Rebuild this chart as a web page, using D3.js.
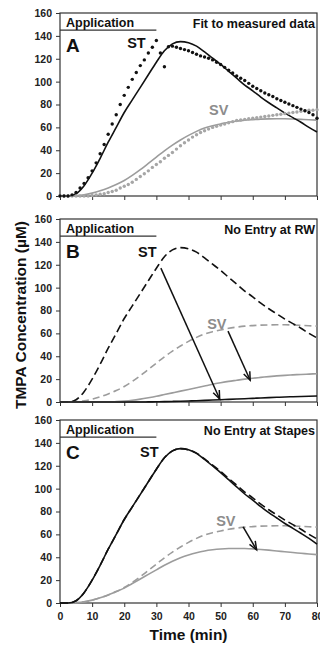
<!DOCTYPE html>
<html>
<head>
  <meta charset="utf-8">
  <script src="https://d3js.org/d3.v7.min.js"></script>
  <style>
    html, body { margin: 0; padding: 0; background: #fff; }
    svg text { font-family: "Liberation Sans", Arial, sans-serif; font-weight: bold; }
  </style>
</head>
<body>
  <div id="chart"></div>
  <script>
    // model curves, sampled every 2.5 min
    var modelTime = [0, 2.5, 5, 7.5, 10, 12.5, 15, 17.5, 20, 22.5, 25, 27.5, 30, 32.5, 35, 37.5, 40,
      42.5, 45, 47.5, 50, 52.5, 55, 57.5, 60, 62.5, 65, 67.5, 70, 72.5, 75, 77.5, 80];
    var stModel = [0, 0, 2, 9, 20, 33, 47, 60, 73, 84, 95, 106, 117, 127, 133, 135, 134,
      131, 126, 120.5, 115, 109, 103, 97, 92, 86.5, 81.5, 77, 72.5, 68.5, 64.5, 60, 56];
    var svModel = [0, 0, 0.3, 1, 2.5, 4.5, 7, 10, 13.5, 18, 23, 28.5, 34, 39.5, 44.5, 49, 53,
      56.5, 59.5, 61.5, 63, 64.5, 65.5, 66.3, 66.8, 67.2, 67.4, 67.5, 67.5, 67.3, 67, 66.7, 66.3];
    var stNoRW = [0, 0, 0, 0, 0, 0, 0, 0, 0, 0, 0, 0.1, 0.2, 0.3, 0.5, 0.7, 0.9,
      1.1, 1.4, 1.7, 2, 2.3, 2.6, 2.9, 3.2, 3.5, 3.8, 4.1, 4.4, 4.6, 4.8, 5, 5.2];
    var svNoRW = [0, 0, 0, 0, 0, 0, 0, 0.3, 0.8, 1.5, 2.5, 3.7, 5, 6.5, 8, 9.5, 11,
      12.5, 14, 15.5, 16.8, 18, 19, 20, 20.8, 21.5, 22.2, 22.8, 23.3, 23.7, 24.1, 24.4, 24.7];
    var stNoStapes = [0, 0, 2, 9, 20, 33, 47, 60, 73, 84, 95, 106, 117, 127, 133, 135, 134,
      130.8, 125.5, 119.8, 114, 107.8, 101.5, 95.3, 90, 84.2, 79, 74.3, 69.5, 65.3, 61, 56.5, 51.5];
    var svNoStapes = [0, 0, 0.3, 1, 2.5, 4.5, 7, 10, 13, 17, 21, 25, 29, 33, 36.5, 39.5, 42,
      44, 45.5, 46.5, 47.2, 47.6, 47.7, 47.6, 47.3, 46.8, 46.2, 45.5, 44.8, 44.1, 43.5, 42.9, 42.3];

    // measured data (panel A dots)
    var measTime = [0, 1.25, 2.5, 3.75, 5, 6.25, 7.5, 8.75, 10, 11.25, 12.5, 13.75, 15, 16.25, 17.5, 18.75,
      20, 21.25, 22.5, 23.75, 25, 26.25, 27.5, 28.75, 30, 31.25, 32.5, 33.75, 35, 36.25, 37.5, 38.75,
      40, 41.25, 42.5, 43.75, 45, 46.25, 47.5, 48.75, 50, 51.25, 52.5, 53.75, 55, 56.25, 57.5, 58.75,
      60, 61.25, 62.5, 63.75, 65, 66.25, 67.5, 68.75, 70, 71.25, 72.5, 73.75, 75, 76.25, 77.5, 78.75, 80];
    var stMeasured = [0, 0, 0, 1, 3, 7, 11, 16, 22, 29, 37, 45, 54, 63, 71, 80,
      88, 95, 102, 108, 114, 119, 125, 130, 136, 125, 113, 130.5, 131, 130, 129, 128,
      127, 125.5, 124, 122.5, 121.5, 120.5, 119, 117, 115, 112.5, 110, 107.5, 105, 103, 101, 98.5,
      96, 94, 92, 90, 88.5, 87, 85, 83.5, 82, 80.5, 79, 77.5, 76, 74.5, 73, 71, 68];
    var svMeasured = [0, 0, 0, 0, 0, 0, 0, 0, 0.5, 1, 1.5, 2, 3, 4, 5, 7,
      8.5, 10, 12, 14.5, 17, 19.5, 22, 25, 27.5, 30, 33, 35.5, 38, 41, 44, 46.5,
      49, 51.5, 53.5, 55.5, 57, 58.5, 60, 61, 62, 63, 64, 65, 66, 66.5, 67, 67.5,
      68, 68.5, 69, 69.5, 70, 70.5, 71, 71.5, 72, 72.5, 73, 73.5, 74, 74.5, 75, 75, 75.5];

    var yTicks = [0, 20, 40, 60, 80, 100, 120, 140, 160];
    var xTicks = [0, 10, 20, 30, 40, 50, 60, 70, 80];
    var panelLetters = ["A", "B", "C"];
    var panelTitles = ["Fit to measured data", "No Entry at RW", "No Entry at Stapes"];
    var applicationPeriod = [0, 30];
    var applicationLevel = 145;

    // arrows: [t0, c0, t1, c1]
    var arrowsB = [[31.4, 117, 49.7, 2.6], [52.3, 62, 59.2, 19]];
    var arrowsC = [[57, 66.5, 61.2, 46.5]];

    var W = 320, H = 646;
    var left = 60, right = 317, panelH = 183;
    var black = "#111", grey = "#9c9c9c", greyDot = "#a6a6a6", greyText = "#8c8c8c";

    var svg = d3.select("#chart").append("svg")
      .attr("width", W)
      .attr("height", H);

    svg.append("rect").attr("width", W).attr("height", H).attr("fill", "#fff");

    var x = d3.scaleLinear().domain([0, 80]).range([left, right]);

    function pts(t, v) {
      return t.map(function (d, i) { return [d, v[i]]; });
    }

    var panels = [
      {
        top: 13,
        lines: [
          { data: pts(modelTime, svModel), color: grey },
          { data: pts(modelTime, stModel), color: black }
        ],
        dots: [
          { data: pts(measTime, svMeasured), color: greyDot },
          { data: pts(measTime, stMeasured), color: black }
        ],
        arrows: [],
        st: [20.9, 129.4], sv: [46.4, 70.8]
      },
      {
        top: 219,
        lines: [
          { data: pts(modelTime, svModel), color: grey, dash: "7,4" },
          { data: pts(modelTime, stModel), color: black, dash: "8,4" },
          { data: pts(modelTime, svNoRW), color: grey },
          { data: pts(modelTime, stNoRW), color: black }
        ],
        dots: [],
        arrows: arrowsB,
        st: [24.3, 127], sv: [45.8, 64]
      },
      {
        top: 420,
        lines: [
          { data: pts(modelTime, svModel), color: grey, dash: "7,4" },
          { data: pts(modelTime, svNoStapes), color: grey },
          { data: pts(modelTime, stModel), color: black, dash: "8,4" },
          { data: pts(modelTime, stNoStapes), color: black }
        ],
        dots: [],
        arrows: arrowsC,
        st: [24.9, 127.5], sv: [48.6, 67],
        xLabels: true
      }
    ];

    panels.forEach(function (p, k) {
      var y = d3.scaleLinear().domain([0, 160]).range([p.top + panelH, p.top]);
      var g = svg.append("g");

      // axes
      var ya = g.append("g")
        .attr("transform", "translate(" + left + ",0)")
        .call(d3.axisLeft(y).tickValues(yTicks).tickSize(4).tickSizeOuter(0).tickPadding(4));
      ya.selectAll("text").attr("font-size", "10.5px").attr("fill", "#222")
        .style("font-family", "'Liberation Sans', Arial, sans-serif").style("font-weight", "bold");

      var xa = g.append("g")
        .attr("transform", "translate(0," + (p.top + panelH) + ")")
        .call(d3.axisBottom(x).tickValues(xTicks).tickSize(4).tickSizeOuter(0).tickPadding(6));
      xa.selectAll("text").attr("font-size", "10.5px").attr("fill", "#222")
        .style("font-family", "'Liberation Sans', Arial, sans-serif").style("font-weight", "bold");
      if (!p.xLabels) xa.selectAll("text").remove();
      g.selectAll(".domain").remove();
      g.selectAll(".tick line").attr("stroke", "#333");

      // frame
      g.append("rect")
        .attr("x", left).attr("y", p.top)
        .attr("width", right - left).attr("height", panelH)
        .attr("fill", "none").attr("stroke", "#333").attr("stroke-width", 1.2);

      // application bar
      g.append("line")
        .attr("x1", x(applicationPeriod[0])).attr("x2", x(applicationPeriod[1]))
        .attr("y1", y(applicationLevel)).attr("y2", y(applicationLevel))
        .attr("stroke", "#333").attr("stroke-width", 1.3);
      g.append("text")
        .attr("x", x(applicationPeriod[0]) + 6).attr("y", y(applicationLevel) - 3)
        .attr("font-size", "12.5px").attr("fill", "#111")
        .text("Application");
      g.append("text")
        .attr("x", right - 2).attr("y", y(applicationLevel) - 2.5)
        .attr("text-anchor", "end")
        .attr("font-size", "12.5px").attr("fill", "#111")
        .text(panelTitles[k]);
      g.append("text")
        .attr("x", left + 6).attr("y", p.top + 39)
        .attr("font-size", "19px").attr("fill", "#111")
        .text(panelLetters[k]);

      var line = d3.line()
        .x(function (d) { return x(d[0]); })
        .y(function (d) { return y(d[1]); })
        .curve(d3.curveMonotoneX);

      p.lines.forEach(function (s) {
        g.append("path")
          .datum(s.data)
          .attr("fill", "none")
          .attr("stroke", s.color)
          .attr("stroke-width", 1.6)
          .attr("stroke-dasharray", s.dash || null)
          .attr("d", line);
      });

      p.dots.forEach(function (s) {
        g.selectAll(null)
          .data(s.data)
          .enter().append("circle")
          .attr("cx", function (d) { return x(d[0]); })
          .attr("cy", function (d) { return y(d[1]); })
          .attr("r", 1.7)
          .attr("fill", s.color);
      });

      p.arrows.forEach(function (a) {
        var x0 = x(a[0]), y0 = y(a[1]), x1 = x(a[2]), y1 = y(a[3]);
        var ang = Math.atan2(y1 - y0, x1 - x0), len = 9, spread = 0.38;
        g.append("line")
          .attr("x1", x0).attr("y1", y0).attr("x2", x1).attr("y2", y1)
          .attr("stroke", black).attr("stroke-width", 1.5);
        g.append("path")
          .attr("d", "M" + (x1 - len * Math.cos(ang - spread)) + "," + (y1 - len * Math.sin(ang - spread)) +
            "L" + x1 + "," + y1 +
            "L" + (x1 - len * Math.cos(ang + spread)) + "," + (y1 - len * Math.sin(ang + spread)))
          .attr("fill", "none").attr("stroke", black).attr("stroke-width", 1.5);
      });

      g.append("text")
        .attr("x", x(p.st[0])).attr("y", y(p.st[1]))
        .attr("font-size", "14.5px").attr("fill", "#111")
        .text("ST");
      g.append("text")
        .attr("x", x(p.sv[0])).attr("y", y(p.sv[1]))
        .attr("font-size", "14.5px").attr("fill", greyText)
        .text("SV");
    });

    // axis titles
    svg.append("text")
      .attr("transform", "translate(26,315) rotate(-90)")
      .attr("text-anchor", "middle")
      .attr("font-size", "15.5px").attr("fill", "#111")
      .text("TMPA Concentration (\u00B5M)");

    svg.append("text")
      .attr("x", (left + right) / 2).attr("y", 640)
      .attr("text-anchor", "middle")
      .attr("font-size", "15.5px").attr("fill", "#111")
      .text("Time (min)");
  </script>
</body>
</html>
